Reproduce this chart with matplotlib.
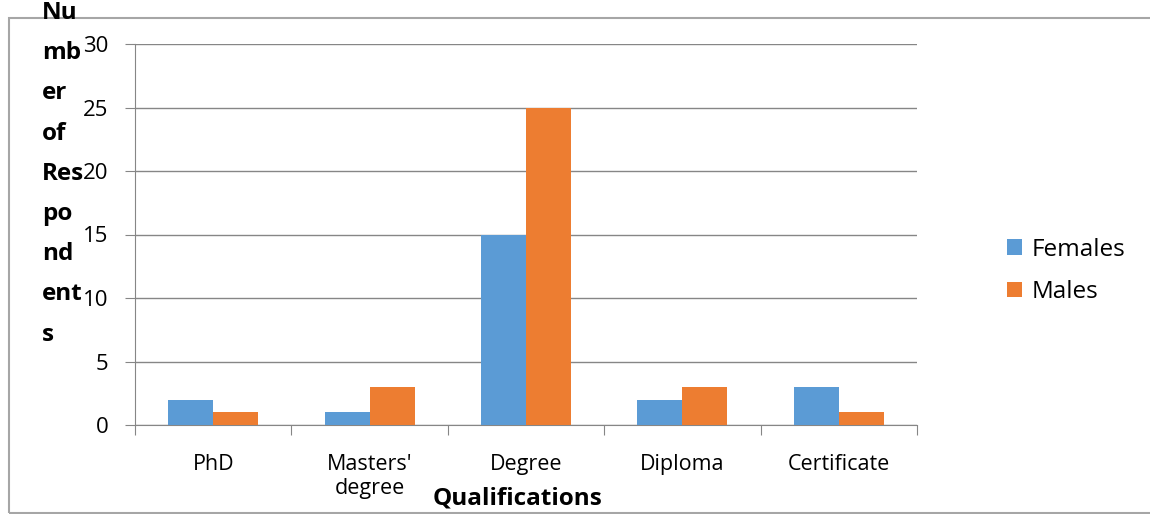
import numpy as np
import matplotlib.pyplot as plt
from matplotlib.patches import Rectangle

categories = ["PhD", "Masters'\ndegree", "Degree", "Diploma", "Certificate"]
females = [2, 1, 15, 2, 3]
males = [1, 3, 25, 3, 1]
series_names = ["Females", "Males"]
yticks = [0, 5, 10, 15, 20, 25, 30]

W, H = 1150, 514
fig = plt.figure(figsize=(W / 100, H / 100), dpi=100)
plt.rcParams['font.family'] = ['Open Sans', 'DejaVu Sans']

# outer chart frame
fig.patches.append(Rectangle((9 / W, 1 - 513 / H), 1.2, (513 - 18) / H,
                             transform=fig.transFigure, fill=False,
                             edgecolor='#a6a6a6', linewidth=1.5))

ax = fig.add_axes([135 / W, 1 - 425 / H, (917 - 135) / W, (425 - 44) / H])

x = np.arange(len(categories))
bw = 0.288
ax.bar(x - bw / 2, females, bw, color='#5B9BD5', label=series_names[0], zorder=3)
ax.bar(x + bw / 2, males, bw, color='#ED7D31', label=series_names[1], zorder=3)

ax.set_xlim(-0.5, len(categories) - 0.5)
ax.set_ylim(0, 30)
ax.set_yticks(yticks)
ax.yaxis.grid(True, color='#868686', linewidth=1, zorder=0)
ax.tick_params(axis='y', length=7, color='#868686', labelsize=16, pad=12)

ax.set_xticks(np.arange(len(categories) + 1) - 0.5)
ax.set_xticklabels([])
ax.set_xticks(x, minor=True)
ax.set_xticklabels(categories, minor=True, fontsize=15.5, linespacing=1.2)
ax.tick_params(axis='x', which='major', length=7, color='#868686')
ax.tick_params(axis='x', which='minor', length=0, pad=21)

for s in ['top', 'right']:
    ax.spines[s].set_visible(False)
for s in ['left', 'bottom']:
    ax.spines[s].set_color('#868686')

ax.set_xlabel("Qualifications", fontsize=17.5, fontweight='bold')
ax.xaxis.set_label_coords((518 - 135) / (917 - 135), -(486 - 425) / (425 - 44))
ax.xaxis.label.set_va('top')

fig.text(42 / W, 1 - 1 / H, "Nu\nmb\ner\nof\nRes\npo\nnd\nent\ns",
         fontsize=17.5, fontweight='bold', ha='left', va='top',
         linespacing=1.9)

ax.legend(loc='center left', bbox_to_anchor=(985 / W, 1 - 271 / H),
          bbox_transform=fig.transFigure, frameon=False, fontsize=17.5,
          handlelength=0.62, handleheight=0.62, handletextpad=0.4,
          labelspacing=0.75)

fig.savefig('out.png', dpi=100)
